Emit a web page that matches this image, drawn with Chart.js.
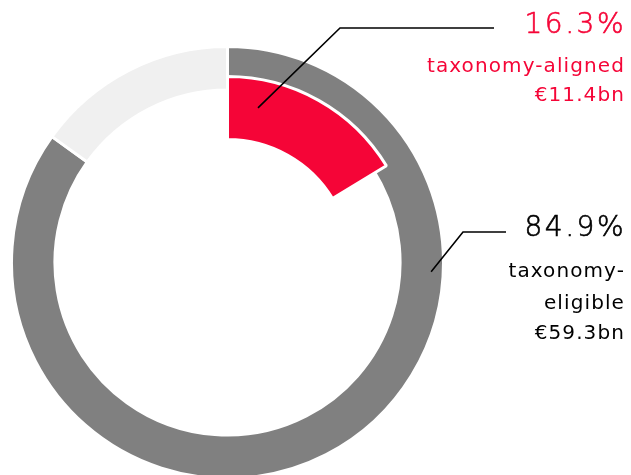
<!DOCTYPE html>
<html>
<head>
<meta charset="utf-8">
<script src="https://cdn.jsdelivr.net/npm/chart.js@4/dist/chart.umd.min.js"></script>
<style>
  body { margin: 0; background: #fff; }
  #wrap { position: relative; width: 631px; height: 475px; overflow: hidden; font-family: "DejaVu Sans", sans-serif; }
  #wrap canvas { position: absolute; left: 0; top: 0; }
  .lbl { position: absolute; right: 6px; white-space: nowrap; color: #000; }
  .big { font-size: 28px; line-height: 28px; font-weight: 200; letter-spacing: 2.5px; -webkit-text-stroke: 0.6px; right: 5px; }
  .small { font-size: 20px; line-height: 20px; letter-spacing: 1.1px; }
  .red { color: #f50537; }
</style>
</head>
<body>
<div id="wrap">
  <canvas id="ringChart" width="631" height="475"></canvas>
  <canvas id="alignedChart" width="631" height="475"></canvas>
  <div class="lbl big red" style="top:10px">16.3%</div>
  <div class="lbl small red" style="top:55px">taxonomy-aligned</div>
  <div class="lbl small red" style="top:84px">€11.4bn</div>
  <div class="lbl big" style="top:213px">84.9%</div>
  <div class="lbl small" style="top:260px">taxonomy-</div>
  <div class="lbl small" style="top:292px">eligible</div>
  <div class="lbl small" style="top:322px">€59.3bn</div>
</div>
<script>
// shares in percent of total revenue
const ringCategories = ['taxonomy-eligible', 'not eligible'];
const eligibleShares = [84.9, 15.1];
const alignedCategories = ['taxonomy-aligned', 'rest'];
const alignedShares = [16.3, 83.7];

const grey = '#808080';
const lightGrey = '#f0f0f0';
const red = '#f50537';

const sharedLayout = { padding: { left: 0, right: 176, top: 50, bottom: 0 } };

const ringChart = new Chart(document.getElementById('ringChart'), {
    type: 'doughnut',
    data: {
        labels: ringCategories,
        datasets: [{
            data: eligibleShares,
            backgroundColor: [grey, lightGrey],
            borderColor: '#fff',
            borderWidth: 3
        }]
    },
    options: {
        responsive: false,
        animation: false,
        radius: 216,
        cutout: '79.9%',
        layout: sharedLayout,
        plugins: { legend: { display: false }, tooltip: { enabled: false } }
    }
});

// leader lines from the slices to the labels
const leaderLines = {
    id: 'leaderLines',
    afterDraw(chart) {
        const ctx = chart.ctx;
        const redArc = chart.getDatasetMeta(0).data[0];
        const greyArc = ringChart.getDatasetMeta(0).data[0];

        const pointOn = (arc, t, rt) => {
            const p = arc.getProps(['x', 'y', 'startAngle', 'endAngle', 'innerRadius', 'outerRadius'], true);
            const a = p.startAngle + t * (p.endAngle - p.startAngle);
            const r = p.innerRadius + rt * (p.outerRadius - p.innerRadius);
            return [p.x + r * Math.cos(a), p.y + r * Math.sin(a)];
        };

        ctx.save();
        ctx.strokeStyle = '#000';
        ctx.lineWidth = 1.6;

        let a = pointOn(redArc, 0.19, 0.55);
        ctx.beginPath();
        ctx.moveTo(a[0], a[1]);
        ctx.lineTo(340, 28);
        ctx.lineTo(494, 28);
        ctx.stroke();

        a = pointOn(greyArc, 0.303, 0.72);
        ctx.beginPath();
        ctx.moveTo(a[0], a[1]);
        ctx.lineTo(463, 232);
        ctx.lineTo(506, 232);
        ctx.stroke();
        ctx.restore();
    }
};

new Chart(document.getElementById('alignedChart'), {
    type: 'doughnut',
    data: {
        labels: alignedCategories,
        datasets: [{
            data: alignedShares,
            backgroundColor: [red, 'rgba(0,0,0,0)'],
            borderColor: '#fff',
            borderWidth: [3, 0]
        }]
    },
    options: {
        responsive: false,
        animation: false,
        radius: 186,
        cutout: '66.1%',
        layout: sharedLayout,
        plugins: { legend: { display: false }, tooltip: { enabled: false } }
    },
    plugins: [leaderLines]
});
</script>
</body>
</html>
